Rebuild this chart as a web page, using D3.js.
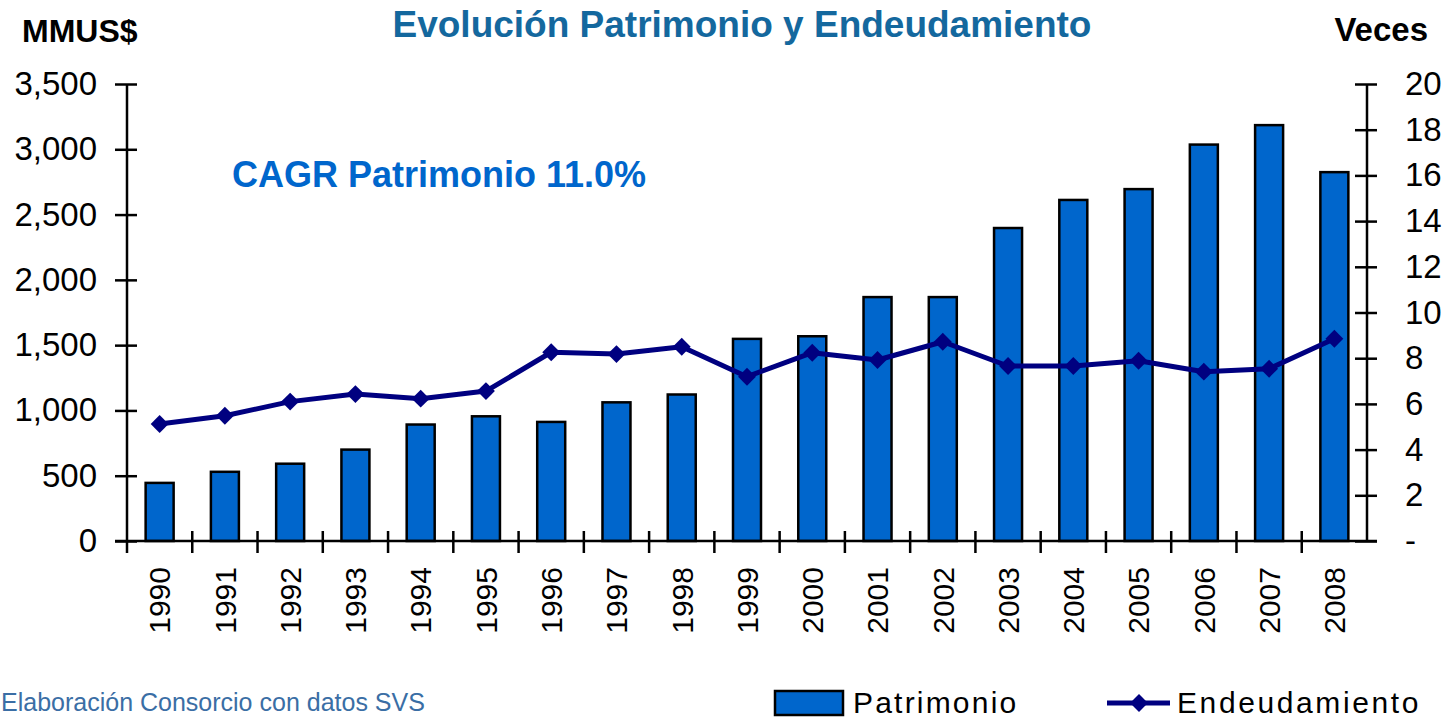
<!DOCTYPE html>
<html>
<head>
<meta charset="utf-8">
<script src="https://cdn.jsdelivr.net/npm/d3@7"></script>
<style>
  body { margin: 0; background: #fff; }
  text { font-family: Arial, "Liberation Sans", sans-serif; }
</style>
</head>
<body>
<div id="my_dataviz"></div>
<script>
// data
const years = ["1990","1991","1992","1993","1994","1995","1996","1997","1998","1999",
               "2000","2001","2002","2003","2004","2005","2006","2007","2008"]
const patrimonio = [445, 530, 592, 700, 892, 955, 912, 1062, 1122, 1548,
                    1568, 1868, 1868, 2397, 2612, 2695, 3036, 3185, 2825]
const endeudamiento = [5.12, 5.48, 6.1, 6.43, 6.23, 6.56, 8.26, 8.18, 8.5, 7.19,
                       8.24, 7.92, 8.72, 7.66, 7.66, 7.89, 7.41, 7.54, 8.85]
const leftTicks = [0, 500, 1000, 1500, 2000, 2500, 3000, 3500]
const rightTicks = [0, 2, 4, 6, 8, 10, 12, 14, 16, 18, 20]

const width = 1447
const height = 718
const mLeft = 127, mRight = 1367, mTop = 84, mBottom = 541

const barColor = "#0066CC"
const lineColor = "#000080"

const svg = d3.select("#my_dataviz")
  .append("svg")
    .attr("width", width)
    .attr("height", height)

// scales
const x = d3.scaleBand().domain(years).range([mLeft, mRight]).paddingInner(0).paddingOuter(0)
const y = d3.scaleLinear().domain([0, 3500]).range([mBottom, mTop])
const y2 = d3.scaleLinear().domain([0, 20]).range([mBottom, mTop])
const barW = 28

// bars
svg.append("g")
  .selectAll("rect")
  .data(patrimonio)
  .join("rect")
    .attr("x", (d, i) => x(years[i]) + x.bandwidth() / 2 - barW / 2)
    .attr("y", d => y(d))
    .attr("width", barW)
    .attr("height", d => y(0) - y(d))
    .attr("fill", barColor)
    .attr("stroke", "#000")
    .attr("stroke-width", 2.5)

// left axis
const axL = svg.append("g")
  .attr("transform", `translate(${mLeft},0)`)
  .call(d3.axisLeft(y).tickValues(leftTicks).tickFormat(d3.format(",")).tickSize(12).tickPadding(18))
axL.select(".domain").attr("stroke", "#000").attr("stroke-width", 2.5).attr("d", `M0,${mTop}V${mBottom}`)
axL.selectAll(".tick line").attr("stroke-width", 2.5).attr("x2", -12).attr("x1", 10)
axL.selectAll(".tick text").attr("font-size", 33).attr("fill", "#000").attr("font-family", "Arial, 'Liberation Sans', sans-serif")

// right axis
const axR = svg.append("g")
  .attr("transform", `translate(${mRight},0)`)
  .call(d3.axisRight(y2).tickValues(rightTicks).tickFormat(d => d === 0 ? "-" : d).tickSize(10).tickPadding(28))
axR.select(".domain").attr("stroke", "#000").attr("stroke-width", 2.5).attr("d", `M0,${mTop}V${mBottom}`)
axR.selectAll(".tick line").attr("stroke-width", 2.5).attr("x1", -12).attr("x2", 10)
axR.selectAll(".tick text").attr("font-size", 33).attr("fill", "#000").attr("font-family", "Arial, 'Liberation Sans', sans-serif")

// bottom axis, ticks on band edges
const xAx = svg.append("g")
xAx.append("line")
  .attr("x1", mLeft - 12).attr("x2", mRight + 10)
  .attr("y1", mBottom).attr("y2", mBottom)
  .attr("stroke", "#000").attr("stroke-width", 2.5)
xAx.selectAll(".edge")
  .data(years.slice(1))
  .join("line")
    .attr("class", "edge")
    .attr("x1", d => x(d)).attr("x2", d => x(d))
    .attr("y1", mBottom - 10).attr("y2", mBottom + 12)
    .attr("stroke", "#000").attr("stroke-width", 2.5)
xAx.append("line")
  .attr("x1", mLeft).attr("x2", mLeft)
  .attr("y1", mBottom).attr("y2", mBottom + 12)
  .attr("stroke", "#000").attr("stroke-width", 2.5)
xAx.selectAll("text")
  .data(years)
  .join("text")
    .attr("transform", d => `translate(${x(d) + x.bandwidth() / 2},${567}) rotate(-90)`)
    .attr("text-anchor", "end")
    .attr("dy", "0.36em")
    .attr("font-size", 30)
    .text(d => d)

// line + diamonds
const line = d3.line()
  .x((d, i) => x(years[i]) + x.bandwidth() / 2)
  .y(d => y2(d))
svg.append("path")
  .datum(endeudamiento)
  .attr("d", line)
  .attr("fill", "none")
  .attr("stroke", lineColor)
  .attr("stroke-width", 5)
  .attr("stroke-linejoin", "round")

const diamond = d3.symbol().type(d3.symbolSquare).size(160)
svg.append("g")
  .selectAll("path")
  .data(endeudamiento)
  .join("path")
    .attr("d", diamond)
    .attr("transform", (d, i) => `translate(${x(years[i]) + x.bandwidth() / 2},${y2(d)}) rotate(45)`)
    .attr("fill", lineColor)

// titles
svg.append("text")
  .attr("x", 742).attr("y", 37)
  .attr("text-anchor", "middle")
  .attr("font-size", 37).attr("font-weight", "bold")
  .attr("fill", "#14689E")
  .text("Evolución Patrimonio y Endeudamiento")

svg.append("text")
  .attr("x", 22).attr("y", 42)
  .attr("font-size", 32).attr("font-weight", "bold")
  .text("MMUS$")

svg.append("text")
  .attr("x", 1428).attr("y", 41)
  .attr("text-anchor", "end")
  .attr("font-size", 33).attr("font-weight", "bold")
  .text("Veces")

svg.append("text")
  .attr("x", 232).attr("y", 187)
  .attr("font-size", 36).attr("font-weight", "bold")
  .attr("fill", barColor)
  .text("CAGR Patrimonio 11.0%")

// source note
svg.append("text")
  .attr("x", 1).attr("y", 711)
  .attr("font-size", 25)
  .attr("fill", "#3A6EA5")
  .text("Elaboración Consorcio con datos SVS")

// legend
const legend = svg.append("g").attr("class", "legend")
legend.append("rect")
  .attr("x", 775).attr("y", 691)
  .attr("width", 68).attr("height", 24)
  .attr("fill", barColor).attr("stroke", "#000").attr("stroke-width", 2.5)
legend.append("text")
  .attr("x", 853).attr("y", 713)
  .attr("font-size", 30).attr("letter-spacing", 2.2)
  .text("Patrimonio")
legend.append("line")
  .attr("x1", 1107).attr("x2", 1170)
  .attr("y1", 703).attr("y2", 703)
  .attr("stroke", lineColor).attr("stroke-width", 5)
legend.append("path")
  .attr("d", diamond)
  .attr("transform", "translate(1139,703) rotate(45)")
  .attr("fill", lineColor)
legend.append("text")
  .attr("x", 1177).attr("y", 713)
  .attr("font-size", 30).attr("letter-spacing", 2.6)
  .text("Endeudamiento")
</script>
</body>
</html>
